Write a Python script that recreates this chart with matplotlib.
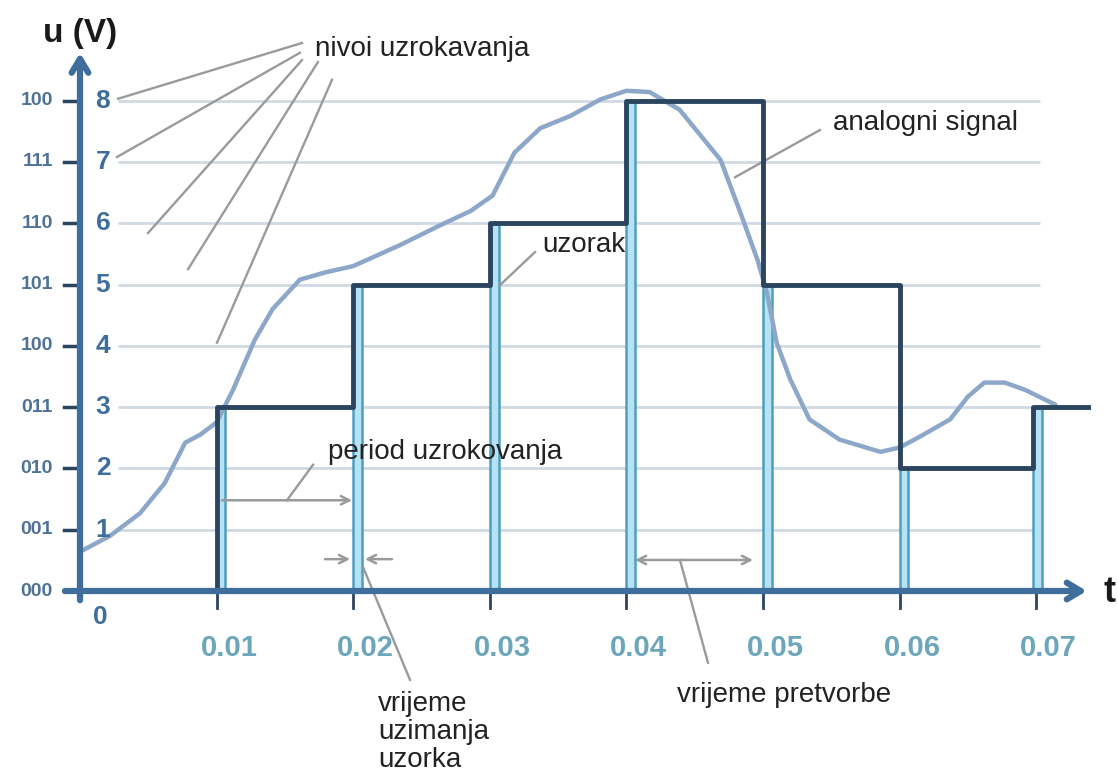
import matplotlib.pyplot as plt

# sample instants and quantised levels (step signal)
sample_t = [0.0, 0.01, 0.02, 0.03, 0.04, 0.05, 0.06, 0.0698]
sample_lvl = [0, 3, 5, 6, 8, 5, 2, 3]
t_end = 0.0738

# analog signal
analog_t = [0.0, 0.0022, 0.0044, 0.0062, 0.0077, 0.0088, 0.0100, 0.0112, 0.0128,
            0.0141, 0.0161, 0.0180, 0.0200, 0.0234, 0.0264, 0.0286, 0.0302,
            0.0318, 0.0337, 0.0359, 0.0381, 0.0400, 0.0417, 0.0439, 0.0469,
            0.0483, 0.0496, 0.0503, 0.0510, 0.0520, 0.0534, 0.0556, 0.0586,
            0.0600, 0.0615, 0.0637, 0.0650, 0.0662, 0.0677, 0.0692, 0.0714]
analog_v = [0.64, 0.90, 1.27, 1.76, 2.42, 2.55, 2.75, 3.28, 4.10,
            4.60, 5.08, 5.20, 5.30, 5.64, 5.97, 6.20, 6.45,
            7.15, 7.55, 7.75, 8.02, 8.16, 8.14, 7.85, 7.03,
            6.20, 5.40, 4.86, 4.05, 3.45, 2.80, 2.47, 2.27,
            2.34, 2.52, 2.80, 3.17, 3.40, 3.40, 3.28, 3.04]

levels = [0, 1, 2, 3, 4, 5, 6, 7, 8]
codes = ['000', '001', '010', '011', '100', '101', '110', '111', '100']
xticks = [0.01, 0.02, 0.03, 0.04, 0.05, 0.06, 0.07]
xtick_labels = ['0.01', '0.02', '0.03', '0.04', '0.05', '0.06', '0.07']

AXIS = '#3f6e9c'
STEP = '#2b4560'
ANALOG = '#8ca7c8'
GRID = '#d0d9e3'
PULSE_FACE = '#b5e3f3'
PULSE_EDGE = '#4e9fbf'
NOTE = '#9a9a9a'
FONT = 'Liberation Sans'

fig = plt.figure(figsize=(11.18, 7.74), dpi=100)
ax = fig.add_axes([0, 0, 1, 1])
ax.set_xlim(-80 / 13660, 1038 / 13660)
ax.set_ylim(-183 / 61.3, 591 / 61.3)
ax.axis('off')

# horizontal level lines
ax.hlines(levels[1:], 0.0028, 0.0703, color=GRID, lw=2, zorder=1)

# sample pulses
ax.bar(sample_t[1:], sample_lvl[1:], width=0.00065, align='edge',
       color=PULSE_FACE, edgecolor=PULSE_EDGE, lw=1.8, zorder=2)

# analog signal
ax.plot(analog_t, analog_v, color=ANALOG, lw=3.2, solid_capstyle='round',
        solid_joinstyle='round', zorder=3)

# quantised (held) signal
ax.step(sample_t + [t_end], sample_lvl + [sample_lvl[-1]], where='post',
        color=STEP, lw=3.5, zorder=4)

# axes with arrowheads
ax.annotate('', xy=(0.0737, 0), xytext=(-0.0011, 0),
            arrowprops=dict(arrowstyle='->,head_length=1.0,head_width=0.6',
                            color=AXIS, lw=4.5, shrinkA=0, shrinkB=0), zorder=5)
ax.annotate('', xy=(0, 8.78), xytext=(0, -0.15),
            arrowprops=dict(arrowstyle='->,head_length=1.0,head_width=0.6',
                            color=AXIS, lw=4.5, shrinkA=0, shrinkB=0), zorder=5)
ax.text(0, 9.10, 'u (V)', ha='center', va='center', fontsize=24,
        fontweight='bold', color='#1a1a1a', family=FONT)
ax.text(0.0754, -0.02, 't', ha='center', va='center', fontsize=26,
        fontweight='bold', color='#1a1a1a', family=FONT)

# y labels: level digits and binary codes
for lvl, code in zip(levels, codes):
    if lvl == 0:
        ax.text(0.00146, -0.42, '0', ha='center', va='center', fontsize=19,
                fontweight='bold', color=AXIS, family=FONT)
    else:
        ax.text(0.00168, lvl, str(lvl), ha='center', va='center', fontsize=19,
                fontweight='bold', color=AXIS, family=FONT)
    ax.text(-0.00198, lvl, code, ha='right', va='center', fontsize=14,
            fontweight='bold', color='#4d7197', family=FONT)
    ax.plot([-0.0012, 0], [lvl, lvl], color=STEP, lw=2.5)

# x ticks and labels
for xt, lab in zip(xticks, xtick_labels):
    ax.plot([xt, xt], [0, -0.28], color=STEP, lw=2)
    ax.text(xt + 0.0009, -0.93, lab, ha='center', va='center', fontsize=21,
            fontweight='bold', color='#6ba6ba', family=FONT)

note_kw = dict(fontsize=20, color='#222222', family=FONT)
line_kw = dict(color=NOTE, lw=1.7)
small_arrow = dict(arrowstyle='->,head_length=0.6,head_width=0.3',
                   color=NOTE, lw=1.8, shrinkA=0, shrinkB=0)

# nivoi uzrokavanja
ax.text(0.0172, 8.84, 'nivoi uzrokavanja', ha='left', va='center', **note_kw)
for (x0, y0), (x1, y1) in [((0.01625, 8.94), (0.00278, 8.03)),
                           ((0.0161, 8.78), (0.00271, 7.08)),
                           ((0.01625, 8.66), (0.00498, 5.84)),
                           ((0.01742, 8.63), (0.00791, 5.25)),
                           ((0.01845, 8.34), (0.01003, 4.05))]:
    ax.plot([x0, x1], [y0, y1], **line_kw)

# period uzrokovanja
ax.text(0.01816, 2.27, 'period uzrokovanja', ha='left', va='center', **note_kw)
ax.annotate('', xy=(0.01991, 1.48), xytext=(0.0104, 1.48), arrowprops=small_arrow)
ax.plot([0.01515, 0.01706], [1.48, 2.06], **line_kw)

# vrijeme uzimanja uzorka
ax.annotate('', xy=(0.01977, 0.52), xytext=(0.01794, 0.52), arrowprops=small_arrow)
ax.annotate('', xy=(0.02086, 0.52), xytext=(0.02284, 0.52), arrowprops=small_arrow)
ax.plot([0.02072, 0.02416], [0.39, -1.45], **line_kw)
ax.text(0.02182, -2.30, 'vrijeme\nuzimanja\nuzorka', ha='left', va='center',
        multialignment='left', linespacing=1.08, **note_kw)

# vrijeme pretvorbe
ax.annotate('', xy=(0.04927, 0.506), xytext=(0.04063, 0.506),
            arrowprops=dict(small_arrow, arrowstyle='<->,head_length=0.6,head_width=0.3'))
ax.plot([0.04392, 0.04597], [0.506, -1.17], **line_kw)
ax.text(0.0437, -1.70, 'vrijeme pretvorbe', ha='left', va='center', **note_kw)

# uzorak
ax.text(0.03382, 5.64, 'uzorak', ha='left', va='center', **note_kw)
ax.plot([0.03075, 0.03331], [4.99, 5.53], **line_kw)

# analogni signal
ax.text(0.05512, 7.63, 'analogni signal', ha='left', va='center', **note_kw)
ax.plot([0.05417, 0.04795], [7.52, 6.75], **line_kw)

fig.savefig('out.png', dpi=100, facecolor='white')
